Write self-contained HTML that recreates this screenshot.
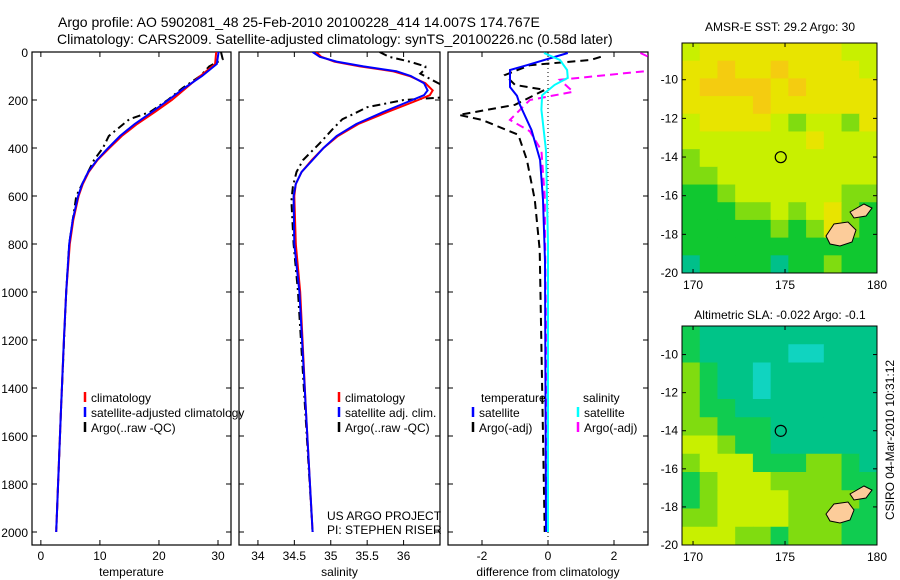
<!DOCTYPE html>
<html><head><meta charset="utf-8"><style>
body{margin:0;background:#fff}
svg{display:block;font-family:"Liberation Sans",sans-serif}
</style></head><body>
<svg id="s" width="900" height="580" xmlns="http://www.w3.org/2000/svg">
<text x="58" y="27" font-size="14">Argo profile: AO 5902081_48 25-Feb-2010 20100228_414 14.007S 174.767E</text>
<text x="57" y="44" font-size="14">Climatology: CARS2009. Satellite-adjusted climatology: synTS_20100226.nc (0.58d later)</text>
<text x="327" y="520" font-size="12">US ARGO PROJECT</text>
<text x="327" y="534" font-size="12">PI: STEPHEN RISER</text>
<text transform="translate(894,440) rotate(-90)" text-anchor="middle" font-size="12">CSIRO 04-Mar-2010 10:31:12</text>
<text x="780" y="31" text-anchor="middle" font-size="12">AMSR-E SST: 29.2 Argo: 30</text>
<text x="780" y="319" text-anchor="middle" font-size="12">Altimetric SLA: -0.022 Argo: -0.1</text>
</svg>
<script>
const depthTicks=[0,200,400,600,800,1000,1200,1400,1600,1800,2000];
const tempTicks=[0,10,20,30];
const salTicks=[34,34.5,35,35.5,36];
const diffTicks=[-2,0,2];
const dClim=[0,50,100,150,200,250,300,350,400,450,500,550,600,700,800,1000,1200,1500,2000];
const tClim=[29.7,29.5,27,24.6,22.2,19.3,16.3,13.7,11.6,9.6,8.1,7.1,6.4,5.5,4.9,4.3,3.9,3.4,2.6];
const tSat=[30.1,29.8,27.3,24.3,21.6,18.8,15.9,13.4,11.4,9.5,8.0,7.0,6.3,5.4,4.8,4.3,3.9,3.4,2.6];
const dArgo=[0,30,60,100,150,200,250,280,300,350,400,450,500,600,800,1000,1500,2000];
const tArgo=[30.5,30.8,28.5,27,24,21.5,18.5,15,14,11.5,10.5,9,8,6,4.8,4.3,3.4,2.6];
const dSal=[0,20,40,60,80,100,130,160,180,200,250,300,350,400,450,500,550,600,800,1000,1500,2000];
const sClim=[34.8,34.87,35.05,35.4,35.85,36.08,36.3,36.4,36.36,36.2,35.78,35.38,35.1,34.9,34.74,34.6,34.52,34.5,34.52,34.58,34.66,34.75];
const sSat=[34.75,34.85,35.08,35.45,35.9,36.1,36.28,36.33,36.28,36.12,35.72,35.35,35.08,34.9,34.75,34.6,34.52,34.49,34.5,34.57,34.66,34.75];
const dSArgo=[0,20,40,60,70,90,110,150,170,190,200,230,260,280,320,380,450,500,560,620,800,1000,2000];
const sArgo=[35.67,35.8,36.08,36.3,36.3,36.23,36.35,36.6,36.6,36.5,36.0,35.5,35.3,35.16,35.03,34.85,34.62,34.53,34.48,34.46,34.49,34.55,34.75];
const dDiff=[4,55,75,146,183,220,325,450,616,870,2000];
const dtSat=[0.6,-0.64,-1.15,-1.15,-0.94,-0.85,-0.5,-0.24,-0.15,-0.09,-0.06];
const dDiff2=[4,33,75,108,137,180,240,410,800,2000];
const dsSat=[-0.12,0.36,0.58,0.6,0.2,-0.18,-0.2,-0.06,0,0];
const dDiff3=[20,33,55,96,137,158,220,262,283,345,450,616,825,2000];
const dtArgo=[1.6,1.3,-0.55,-1.3,-1.0,-0.1,-1.0,-2.7,-2.0,-0.9,-0.64,-0.4,-0.25,-0.1];
const dDiff4=[4,30,75,116,166,200,283,330,410,600,2000];
const dsArgo=[2.8,3.2,3.3,0.36,0.76,-0.55,-1.15,-0.55,-0.2,-0.1,0];
const lonTicks=[170,175,180];
const latTicks=[-10,-12,-14,-16,-18,-20];
const sstGrid=["34444444433","44544544443","45555454444","44445444444","34444323324","33333334333","23333333333","22333333333","11233333322","11122323421","11111212421","11111111111","01111011211"];
const slaGrid=["21111111111","21111100111","32110111111","32110111111","32211111111","33222111111","44322111111","34442223321","23444333322","23444433332","33444433322","44433233322"];
const sstColors=["#00c08a","#10c830","#80dc10","#c8f000","#e8e400","#f4cc10"];
const slaColors=["#10d4c0","#00c488","#10cc50","#80dc10","#c8f000"];

const S=document.getElementById('s');const NS='http://www.w3.org/2000/svg';
function mk(t,a,p){const e=document.createElementNS(NS,t);for(const k in a)e.setAttribute(k,a[k]);(p||S).appendChild(e);return e;}
const Y0=52,KY=0.24,PT=52,PB=545;
function yD(d){return Y0+d*KY;}
function panel(name,x0,x1,xv0,xv1,ticks,lab,showY){
  const g=mk('g',{});
  const xs=v=>x0+(v-xv0)/(xv1-xv0)*(x1-x0);
  const cid='c'+name;const cp=mk('clipPath',{id:cid},g);mk('rect',{x:x0,y:PT,width:x1-x0,height:PB-PT},cp);
  const ax=mk('rect',{x:x0,y:PT,width:x1-x0,height:PB-PT,fill:'none',stroke:'#000','stroke-width':1.2},g);
  
  depthTicks.forEach(d=>{const y=yD(d);mk('line',{x1:x0,x2:x0+5,y1:y,y2:y,stroke:'#000'},g);mk('line',{x1:x1-5,x2:x1,y1:y,y2:y,stroke:'#000'},g);
    if(showY){const t=mk('text',{x:x0-4,y:y+5,'text-anchor':'end','font-size':12},g);t.textContent=d;}});
  ticks.forEach(v=>{const x=xs(v);mk('line',{x1:x,x2:x,y1:PT,y2:PT+5,stroke:'#000'},g);mk('line',{x1:x,x2:x,y1:PB-5,y2:PB,stroke:'#000'},g);
    const t=mk('text',{x:x,y:PB+15,'text-anchor':'middle','font-size':12},g);t.textContent=v;});
  const t=mk('text',{x:(x0+x1)/2,y:PB+31,'text-anchor':'middle','font-size':12},g);t.textContent=lab;
  const lg=mk('g',{'clip-path':'url(#'+cid+')'},g);
  return {xs,lg,g};
}
function line(p,ds,vs,col,dash,nm,w){const pts=ds.map((d,i)=>p.xs(vs[i]).toFixed(1)+','+yD(d).toFixed(1)).join(' ');
  const e=mk('polyline',{points:pts,fill:'none',stroke:col,'stroke-width':w||2,'stroke-dasharray':dash||'none'},p.lg);
  }
function leg(x,y,col,txt,p){const l=mk('line',{x1:x,x2:x,y1:y-10,y2:y,stroke:col,'stroke-width':2.5},p.g);
  
  const t=mk('text',{x:x+6,y:y,'font-size':12},p.g);t.textContent=txt;}
const p1=panel('temperature-panel',32,231,-1.5,32.2,tempTicks,'temperature',true);
line(p1,dArgo,tArgo,'#000','8,4,2,4','temp-argo-line');
line(p1,dClim,tClim,'#f00',null,'temp-climatology-line');
line(p1,dClim,tSat,'#00f',null,'temp-satellite-line');
leg(85,402,'#f00','climatology',p1);leg(85,417,'#00f','satellite-adjusted climatology',p1);leg(85,432,'#000','Argo(..raw -QC)',p1);
const p2=panel('salinity-panel',239,440,33.74,36.5,salTicks,'salinity',false);
line(p2,dSArgo,sArgo,'#000','8,4,2,4','sal-argo-line');
line(p2,dSal,sClim,'#f00',null,'sal-climatology-line');
line(p2,dSal,sSat,'#00f',null,'sal-satellite-line');
leg(339,402,'#f00','climatology',p2);leg(339,417,'#00f','satellite adj. clim.',p2);leg(339,432,'#000','Argo(..raw -QC)',p2);
const p3=panel('difference-panel',448,648,-3.03,3.03,diffTicks,'difference from climatology',false);
const z=mk('line',{x1:p3.xs(0),x2:p3.xs(0),y1:PT,y2:PB,stroke:'#000','stroke-dasharray':'1,3'},p3.lg);

line(p3,dDiff3,dtArgo,'#000','8,5','temp-argo-diff-line');
line(p3,dDiff4,dsArgo,'#f0f','8,5','sal-argo-diff-line');
line(p3,dDiff,dtSat,'#00f',null,'temp-sat-diff-line');
line(p3,dDiff2,dsSat,'#0ff',null,'sal-sat-diff-line');
const tt=mk('text',{x:481,y:402,'font-size':12},p3.g);tt.textContent='temperature';
const ts=mk('text',{x:583,y:402,'font-size':12},p3.g);ts.textContent='salinity';
leg(473,417,'#00f','satellite',p3);leg(473,432,'#000','Argo(-adj)',p3);leg(578,417,'#0ff','satellite',p3);leg(578,432,'#f0f','Argo(-adj)',p3);

function map(name,x0,x1,y0,y1,lat0,lat1,grid,cols,land){
  const g=mk('g',{});
  const lon0=169.4,lon1=180;
  const xs=v=>x0+(v-lon0)/(lon1-lon0)*(x1-x0);const ys=v=>y0+(lat0-v)/(lat0-lat1)*(y1-y0);
  const R=grid.length,C=grid[0].length,cw=(x1-x0)/C,ch=(y1-y0)/R;
  grid.forEach((row,r)=>{for(let c=0;c<C;c++){const e=mk('rect',{x:x0+c*cw,y:y0+r*ch,width:cw+0.5,height:ch+0.5,fill:cols[+row[c]]},g);
    }});
  land.forEach(p=>{const e=mk('path',{d:p,fill:'#fccc9a',stroke:'#000','stroke-width':1},g);});
  const c=mk('circle',{cx:xs(174.767),cy:ys(-14.007),r:5.5,fill:'none',stroke:'#000','stroke-width':1.2},g);
  
  mk('rect',{x:x0,y:y0,width:x1-x0,height:y1-y0,fill:'none',stroke:'#000'},g);
  lonTicks.forEach(v=>{const x=xs(v);mk('line',{x1:x,x2:x,y1:y1-4,y2:y1,stroke:'#000'},g);mk('line',{x1:x,x2:x,y1:y0,y2:y0+4,stroke:'#000'},g);
    const t=mk('text',{x:x,y:y1+16,'text-anchor':'middle','font-size':12},g);t.textContent=v;});
  latTicks.forEach(v=>{const y=ys(v);if(y<y0-1)return;mk('line',{x1:x1-4,x2:x1,y1:y,y2:y,stroke:'#000'},g);mk('line',{x1:x0,x2:x0+4,y1:y,y2:y,stroke:'#000'},g);
    const t=mk('text',{x:x0-4,y:y+4,'text-anchor':'end','font-size':12},g);t.textContent=v;});
}
map('sst-map',682,877,43,273,-8.1,-20.0,sstGrid,sstColors,['M826,236 L834,224 L848,222 L856,230 L852,242 L840,246 L830,244 Z','M850,212 L864,204 L872,208 L866,216 L854,218 Z']);
map('sla-map',682,877,326,545,-8.5,-20.0,slaGrid,slaColors,['M826,514 L834,504 L848,502 L854,510 L850,520 L840,523 L830,521 Z','M850,494 L864,486 L872,490 L866,498 L854,500 Z']);
</script>
</body></html>
